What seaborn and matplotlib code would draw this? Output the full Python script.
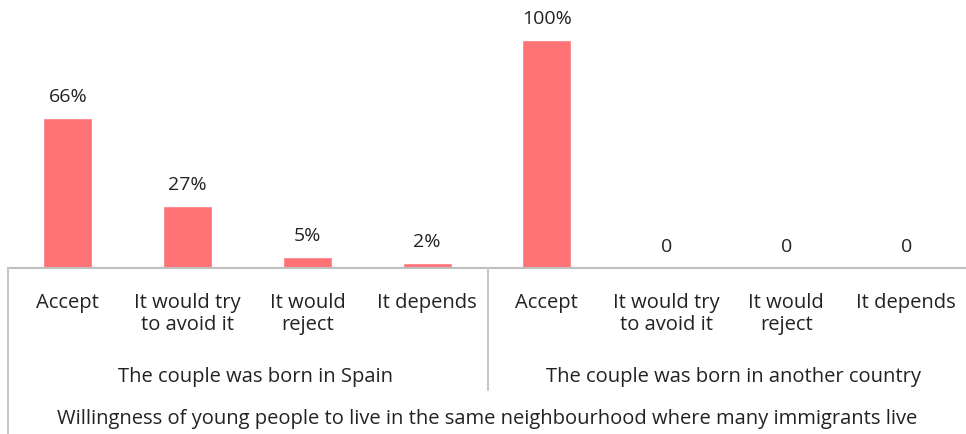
import matplotlib
matplotlib.use("Agg")
import matplotlib.pyplot as plt
import seaborn as sns
import pandas as pd
from matplotlib.lines import Line2D

categories = ["Accept", "It would try\nto avoid it", "It would\nreject", "It depends"]
groups = ["The couple was born in Spain", "The couple was born in another country"]
spain_values = [66, 27, 5, 2]
other_values = [100, 0, 0, 0]
spain_labels = ["66%", "27%", "5%", "2%"]
other_labels = ["100%", "0", "0", "0"]
axis_title = "Willingness of young people to live in the same neighbourhood where many immigrants live"

sns.set_theme(style="white")
plt.rcParams['font.family'] = ['Open Sans', 'DejaVu Sans']

rows = []
for g, vals, labs in [(groups[0], spain_values, spain_labels), (groups[1], other_values, other_labels)]:
    for c, v, l in zip(categories, vals, labs):
        rows.append({"slot": g + "|" + c, "category": c, "group": g, "value": v, "label": l})
df = pd.DataFrame(rows)

W, H = 966, 434
fig = plt.figure(figsize=(W / 100, H / 100), dpi=100)
base_y = 268
ax = fig.add_axes([8 / W, (H - base_y) / H, 1 - 8 / W, base_y / H])

color = "#FF7276"
sns.barplot(data=df, x="slot", y="value", color=color, width=0.41, ax=ax,
            saturation=1, order=list(df["slot"]))
ax.set_ylim(0, 100 * base_y / 228)
ax.set_xlim(-0.5, 7.5)

for i, (v, l) in enumerate(zip(df["value"], df["label"])):
    ax.annotate(l, (i, v), xytext=(0, 12), textcoords="offset pixels",
                ha="center", va="bottom", fontsize=14, color="#222222")

ax.set_xticks(range(len(df)))
ax.set_xticklabels(df["category"], fontsize=14.5, color="#222222", linespacing=1.15, va="top")
ax.tick_params(axis="x", length=0, pad=18)
ax.set_yticks([])
ax.set_xlabel("")
ax.set_ylabel("")
for s in ["top", "right", "left"]:
    ax.spines[s].set_visible(False)
ax.spines["bottom"].set_color("#BFBFBF")
ax.spines["bottom"].set_linewidth(1.5)

gray = "#C8C8C8"
fig.add_artist(Line2D([8 / W, 8 / W], [0, (H - base_y) / H], color=gray, lw=1.5))
fig.add_artist(Line2D([488 / W, 488 / W], [(H - 390) / H, (H - base_y) / H], color=gray, lw=1.5))

fig.text(255 / W, 1 - 377 / H, groups[0], ha="center", va="center", fontsize=14.5, color="#222222")
fig.text(733 / W, 1 - 377 / H, groups[1], ha="center", va="center", fontsize=14.5, color="#222222")
fig.text(487 / W, 1 - 419 / H, axis_title, ha="center", va="center", fontsize=14.5, color="#222222")

fig.savefig("out.png", dpi=100)
